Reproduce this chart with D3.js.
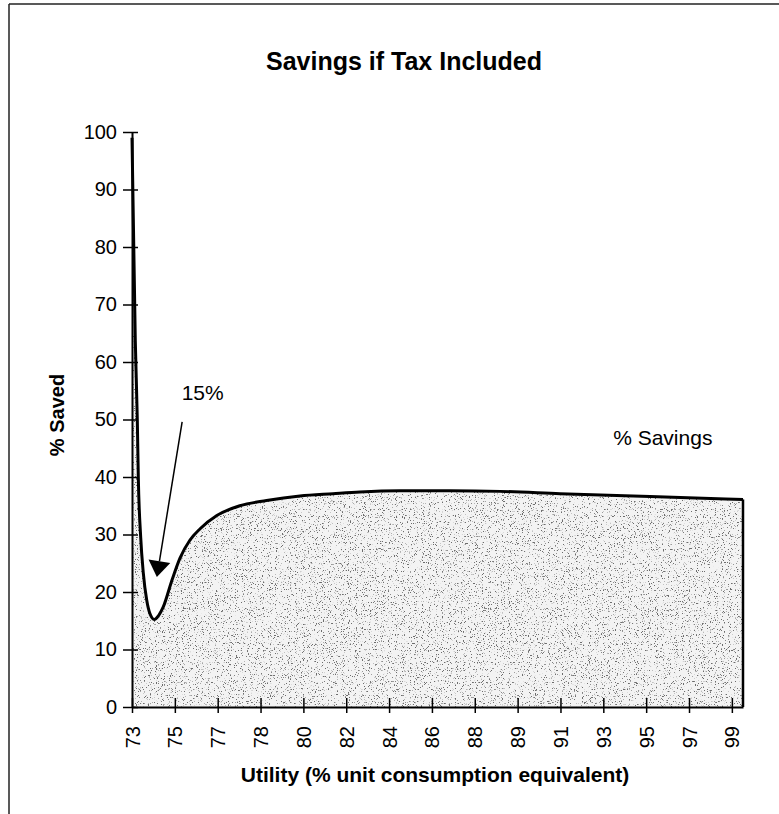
<!DOCTYPE html>
<meta charset="utf-8" />
<script src="https://d3js.org/d3.v7.min.js"></script>
<body style="margin:0;background:#fff">
  <div id="chart"></div>

  <script>
    // category labels shown under every tick (ticks sit at index 0..14)
    var tickLabels = ["73", "75", "77", "78", "80", "82", "84", "86", "88", "89", "91", "93", "95", "97", "99"];
    var yTicks = [0, 10, 20, 30, 40, 50, 60, 70, 80, 90, 100];

    // % saved; position is in tick-index units
    var position = [0, 0.077, 0.124, 0.147, 0.203, 0.264, 0.343, 0.42, 0.52, 0.62, 0.73, 0.93,
      1.12, 1.35, 1.59, 1.98, 2.52, 3.14, 3.92, 4.69, 5.32, 6.25, 7.42, 8.59, 9.99, 12.09, 14.26];
    var saved = [99, 63.7, 49.8, 40, 29.5, 23.3, 18.6, 16.2, 15.2, 15.9, 17.4, 22,
      25.9, 29, 31, 33.3, 35, 35.9, 36.7, 37.1, 37.4, 37.6, 37.6, 37.5, 37.1, 36.6, 36.1];

    // annotation: label text, arrow tail and tip (data coords)
    var minLabel = { text: "15%", p: 1.16, v: 53.4 };
    var arrowTail = { p: 1.17, v: 49.6 };
    var arrowTip = { p: 0.58, v: 22.6 };
    var seriesLabel = { text: "% Savings", p: 11.23, v: 45.6 };

    var data = position.map(function (p, i) {
      return { p: p, v: saved[i] };
    });

    var W = 779, H = 814;
    var font = "'Liberation Sans', Arial, sans-serif";

    var svg = d3.select("#chart").append("svg")
      .attr("width", W).attr("height", H)
      .style("font-family", font);

    // grainy stipple, like the printed fill
    var defs = svg.append("defs");
    var f = defs.append("filter").attr("id", "grain")
      .attr("x", 0).attr("y", 0).attr("width", 1).attr("height", 1);
    f.append("feTurbulence").attr("type", "fractalNoise")
      .attr("baseFrequency", 0.85).attr("numOctaves", 2).attr("seed", 7).attr("result", "n");
    f.append("feColorMatrix").attr("in", "n").attr("type", "matrix")
      .attr("values", "0 0 0 0 0.15  0 0 0 0 0.15  0 0 0 0 0.15  10 0 0 0 -6.1");

    // page frame (left and top edges of the scanned box)
    svg.append("line").attr("x1", 9).attr("y1", 4).attr("x2", 9).attr("y2", H)
      .attr("stroke", "#222").attr("stroke-width", 1.5);
    svg.append("line").attr("x1", 9).attr("y1", 4).attr("x2", W).attr("y2", 4)
      .attr("stroke", "#222").attr("stroke-width", 1.5);

    var x = d3.scaleLinear().domain([0, d3.max(position)]).range([132, 743]);
    var y = d3.scaleLinear().domain([0, 100]).range([707, 132]);

    var area = d3.area()
      .x(function (d) { return x(d.p); })
      .y0(y(0))
      .y1(function (d) { return y(d.v); })
      .curve(d3.curveMonotoneX);
    var line = d3.line()
      .x(function (d) { return x(d.p); })
      .y(function (d) { return y(d.v); })
      .curve(d3.curveMonotoneX);

    defs.append("clipPath").attr("id", "areaClip")
      .append("path").attr("d", area(data));

    svg.append("path").attr("d", area(data)).attr("fill", "#f3f3f3");
    svg.append("g").attr("clip-path", "url(#areaClip)")
      .append("rect")
      .attr("x", x(0)).attr("y", y(100))
      .attr("width", x(d3.max(position)) - x(0)).attr("height", y(0) - y(100))
      .attr("filter", "url(#grain)");

    // axes
    var gx = svg.append("g").attr("transform", "translate(0," + y(0) + ")")
      .call(d3.axisBottom(x)
        .tickValues(d3.range(tickLabels.length))
        .tickFormat(function (i) { return tickLabels[i]; })
        .tickSizeOuter(0));
    gx.select(".domain").attr("stroke", "#000").attr("stroke-width", 2);
    gx.selectAll(".tick line").attr("y1", -9).attr("y2", 6)
      .attr("stroke", "#000").attr("stroke-width", 1.5);
    gx.selectAll(".tick text")
      .attr("transform", "rotate(-90)")
      .attr("x", -19).attr("y", 0).attr("dy", "0.35em")
      .style("text-anchor", "end")
      .style("font-size", "20px").style("font-family", font).attr("fill", "#000");

    var gy = svg.append("g").attr("transform", "translate(" + x(0) + ",0)")
      .call(d3.axisLeft(y).tickValues(yTicks).tickSizeOuter(0));
    gy.select(".domain").attr("stroke", "#000").attr("stroke-width", 2);
    gy.selectAll(".tick line").attr("x1", -9).attr("x2", 6)
      .attr("stroke", "#000").attr("stroke-width", 1.5);
    gy.selectAll(".tick text").attr("x", -15)
      .style("font-size", "20px").style("font-family", font).attr("fill", "#000");

    // curve and the right edge of the filled area
    svg.append("path").attr("d", line(data))
      .attr("fill", "none").attr("stroke", "#000").attr("stroke-width", 3);
    var last = data[data.length - 1];
    svg.append("line")
      .attr("x1", x(last.p)).attr("y1", y(last.v))
      .attr("x2", x(last.p)).attr("y2", y(0))
      .attr("stroke", "#000").attr("stroke-width", 2.5);

    // titles
    svg.append("text").attr("x", 404).attr("y", 70)
      .attr("text-anchor", "middle").style("font-weight", "bold").style("font-size", "25px")
      .text("Savings if Tax Included");
    svg.append("text").attr("x", 435).attr("y", 782)
      .attr("text-anchor", "middle").style("font-weight", "bold").style("font-size", "21px")
      .text("Utility (% unit consumption equivalent)");
    svg.append("text")
      .attr("transform", "translate(64," + 415 + ") rotate(-90)")
      .attr("text-anchor", "middle").style("font-weight", "bold").style("font-size", "20px")
      .text("% Saved");

    // annotations
    svg.append("text").attr("x", x(seriesLabel.p)).attr("y", y(seriesLabel.v))
      .style("font-size", "21px").text(seriesLabel.text);
    svg.append("text").attr("x", x(minLabel.p)).attr("y", y(minLabel.v))
      .style("font-size", "21px").text(minLabel.text);

    var tx = x(arrowTail.p), ty = y(arrowTail.v);
    var hx = x(arrowTip.p), hy = y(arrowTip.v);
    var ang = Math.atan2(hy - ty, hx - tx);
    var headLen = 16, headHalf = 11;
    var bx = hx - headLen * Math.cos(ang), by = hy - headLen * Math.sin(ang);
    svg.append("line").attr("x1", tx).attr("y1", ty).attr("x2", bx).attr("y2", by)
      .attr("stroke", "#000").attr("stroke-width", 1.5);
    svg.append("path")
      .attr("d", "M" + hx + "," + hy +
        "L" + (bx + headHalf * Math.sin(ang)) + "," + (by - headHalf * Math.cos(ang)) +
        "L" + (bx - headHalf * Math.sin(ang)) + "," + (by + headHalf * Math.cos(ang)) + "Z")
      .attr("fill", "#000");
  </script>
</body>
